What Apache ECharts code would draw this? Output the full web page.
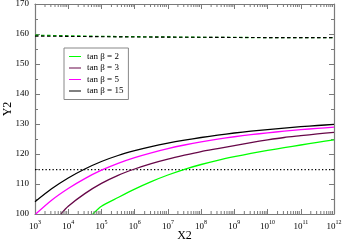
<!DOCTYPE html>
<html><head><meta charset="utf-8">
<script src="https://cdn.jsdelivr.net/npm/echarts@6/dist/echarts.min.js"></script>
<style>html,body{margin:0;padding:0;background:#fff}#c{width:343px;height:246px}</style>
</head><body><div id="c"></div>
<script>
// ---- data ----
const xTan2  = [5.5e4, 1e5, 3.162e5, 1e6, 3.162e6, 1e7, 3.162e7, 1e8, 3.162e8, 1e9, 3.162e9, 1e10, 3.162e10, 1e11, 3.162e11, 1e12];
const yTan2  = [100, 102.6, 105.5, 108.3, 110.8, 113.0, 114.9, 116.5, 117.9, 119.1, 120.2, 121.2, 122.1, 123.0, 123.9, 124.7];
const xTan3  = [6.0e3, 1e4, 3.162e4, 1e5, 3.162e5, 1e6, 3.162e6, 1e7, 3.162e7, 1e8, 3.162e8, 1e9, 3.162e9, 1e10, 3.162e10, 1e11, 3.162e11, 1e12];
const yTan3  = [100, 102.6, 106.8, 110.2, 112.9, 115.0, 116.8, 118.3, 119.6, 120.8, 121.8, 122.8, 123.8, 124.7, 125.5, 126.1, 126.7, 127.2];
const xTan5  = [1.05e3, 3.162e3, 1e4, 3.162e4, 1e5, 3.162e5, 1e6, 3.162e6, 1e7, 3.162e7, 1e8, 3.162e8, 1e9, 3.162e9, 1e10, 3.162e10, 1e11, 3.162e11, 1e12];
const yTan5  = [100, 104.6, 108.5, 111.8, 114.6, 116.9, 118.8, 120.4, 121.8, 123.0, 124.05, 124.95, 125.75, 126.45, 127.05, 127.6, 128.1, 128.55, 128.95];
const xTan15 = [1e3, 3.162e3, 1e4, 3.162e4, 1e5, 3.162e5, 1e6, 3.162e6, 1e7, 3.162e7, 1e8, 3.162e8, 1e9, 3.162e9, 1e10, 3.162e10, 1e11, 3.162e11, 1e12];
const yTan15 = [104.1, 108.4, 112.0, 115.0, 117.5, 119.5, 121.1, 122.45, 123.6, 124.6, 125.5, 126.3, 127.0, 127.6, 128.15, 128.65, 129.1, 129.5, 129.85];
const xUpperGreen = [1e3, 1e4, 1e5, 1e6, 1e8, 1e10, 1e12];
const yUpperGreen = [159.6, 159.4, 159.2, 159.1, 158.9, 158.8, 158.8];
const xUpperBlack = [1e3, 1e4, 1e6, 1e8, 1e10, 1e12];
const yUpperBlack = [159.3, 159.2, 159.0, 158.9, 158.8, 158.8];
const xLimit = [1e3, 1e12];
const yLimit = [114.8, 114.8];
const legendNames = ['tan β = 2', 'tan β = 3', 'tan β = 5', 'tan β = 15'];
const xMajor = [1e3,1e4,1e5,1e6,1e7,1e8,1e9,1e10,1e11,1e12];

const minorX = [];
for (let i = 0; i < xMajor.length - 1; i++) for (let k = 2; k <= 9; k++) minorX.push(xMajor[i] * k);

const zip = (xs, ys) => xs.map((x, i) => [x, ys[i]]);
const serif = 'Liberation Serif';
const axisCol = '#7a7a7a';

const chart = echarts.init(document.getElementById('c'), null, {renderer: 'canvas'});
const solid = (name, xs, ys, color) => ({
  name, type: 'line', data: zip(xs, ys), symbol: 'none', smooth: 0.25,
  lineStyle: {color, width: 1.3, join: 'round'}, itemStyle: {color}, z: 3, silent: true, animation: false
});
chart.setOption({
  animation: false,
  grid: {left: 35, right: 9, top: 4, bottom: 32, outerBoundsMode: 'none', containLabel: false},
  legend: {
    left: 64, top: 48, orient: 'vertical', padding: [4, 5, 4, 5],
    backgroundColor: '#fff', borderColor: '#888', borderWidth: 1,
    itemWidth: 12, itemHeight: 8, itemGap: 2.5,
    textStyle: {fontFamily: serif, fontSize: 9, color: '#000', padding: [0, 0, 0, 1]},
    data: legendNames.map(n => ({name: n, icon: 'path://M0,4L12,4L12,5L0,5Z'}))
  },
  xAxis: [{
    type: 'log', logBase: 10, min: 1e3, max: 1e12, position: 'bottom',
    name: 'X2', nameLocation: 'middle', nameGap: 16, nameMoveOverlap: false,
    nameTextStyle: {fontFamily: serif, fontSize: 12, color: '#000'},
    axisLine: {lineStyle: {color: axisCol, width: 1.2}},
    axisTick: {inside: true, length: 5, lineStyle: {color: axisCol}},
    splitLine: {show: false},
    axisLabel: {
      margin: 4, color: '#000',
      formatter: v => '{b|10}{e|' + Math.round(Math.log10(v)) + '}',
      rich: {b: {fontFamily: serif, fontSize: 9, color: '#000', padding: [4, 0, 0, 0]},
             e: {fontFamily: serif, fontSize: 6, color: '#000', padding: [0, 0, 4, 0]}}
    }
  }, {
    type: 'log', logBase: 10, min: 1e3, max: 1e12, position: 'top',
    axisLine: {lineStyle: {color: axisCol, width: 1.2}},
    axisTick: {inside: true, length: 5, lineStyle: {color: axisCol}},
    axisLabel: {show: false}, splitLine: {show: false}
  }],
  yAxis: [{
    type: 'value', min: 100, max: 170, interval: 10, position: 'left',
    name: 'Y2', nameLocation: 'middle', nameGap: 21, nameMoveOverlap: false,
    nameTextStyle: {fontFamily: serif, fontSize: 12, color: '#000'},
    axisLine: {show: true, lineStyle: {color: axisCol, width: 1.2}},
    axisTick: {inside: true, length: 5, lineStyle: {color: axisCol}},
    minorTick: {show: true, splitNumber: 2, length: 3, lineStyle: {color: axisCol}},
    splitLine: {show: false},
    axisLabel: {fontFamily: serif, fontSize: 9, color: '#000', margin: 6}
  }, {
    type: 'value', min: 100, max: 170, interval: 10, position: 'right',
    axisLine: {show: true, lineStyle: {color: axisCol, width: 1.2}},
    axisTick: {inside: true, length: 5, lineStyle: {color: axisCol}},
    minorTick: {show: true, splitNumber: 2, length: 3, lineStyle: {color: axisCol}},
    splitLine: {show: false}, axisLabel: {show: false}
  }],
  series: [
    solid(legendNames[0], xTan2, yTan2, '#00ff00'),
    solid(legendNames[1], xTan3, yTan3, '#670748'),
    solid(legendNames[2], xTan5, yTan5, '#ff00ff'),
    solid(legendNames[3], xTan15, yTan15, '#000000'),
    {type: 'line', data: zip(xUpperGreen, yUpperGreen), symbol: 'none', silent: true,
     lineStyle: {color: '#00b000', width: 1.3, type: [3.5, 2.5]}, z: 3},
    {type: 'line', data: zip(xUpperBlack, yUpperBlack), symbol: 'none', silent: true,
     lineStyle: {color: '#000', width: 1.1, type: [3.5, 2.5]}, z: 4},
    {type: 'line', data: zip(xLimit, yLimit), symbol: 'none', silent: true,
     lineStyle: {color: '#000', width: 1.2, type: [1.3, 2.2]}, z: 2},
    {type: 'custom', silent: true, clip: false, z: 5,
     data: minorX.map(v => [v, 100]),
     encode: {x: 0, y: 1},
     renderItem: (params, api) => {
       const b = api.coord([api.value(0), 100]);
       const t = api.coord([api.value(0), 170]);
       const st = {stroke: axisCol, lineWidth: 1};
       return {type: 'group', children: [
         {type: 'line', shape: {x1: b[0], y1: b[1], x2: b[0], y2: b[1] - 3}, style: st},
         {type: 'line', shape: {x1: t[0], y1: t[1], x2: t[0], y2: t[1] + 3}, style: st}
       ]};
     }}
  ]
});
</script></body></html>
